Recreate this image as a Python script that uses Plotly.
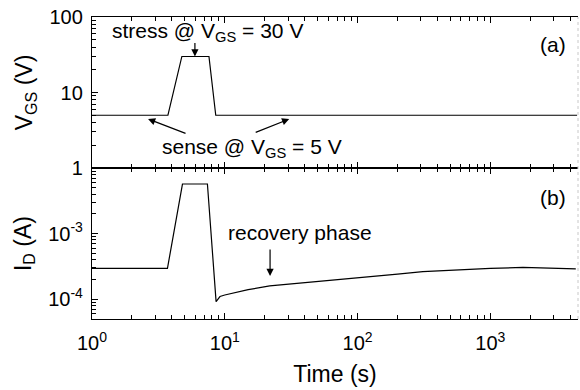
import numpy as np
import plotly.graph_objects as go
from plotly.subplots import make_subplots

# ---- data ----
t_v = [1, 3.73, 4.75, 7.6, 8.55, 4500]
v_gs = [5, 5, 30, 30, 5, 5]

t_i = [1, 3.7, 4.8, 7.4, 8.6, 9.2, 10, 12, 15, 21.8, 30.8, 50, 98, 200, 310, 600, 1000, 1760, 2500, 4400]
i_d = [2.95e-4, 2.95e-4, 5.7e-3, 5.7e-3, 9.2e-5, 1.1e-4, 1.16e-4, 1.27e-4, 1.4e-4, 1.6e-4, 1.7e-4,
       1.85e-4, 2.13e-4, 2.42e-4, 2.63e-4, 2.82e-4, 2.95e-4, 3.05e-4, 3.0e-4, 2.9e-4]

x_tickvals = [1, 10, 100, 1000]
x_ticktext = ["10<sup>0</sup>", "10<sup>1</sup>", "10<sup>2</sup>", "10<sup>3</sup>"]
v_tickvals = [1, 10, 100]
v_ticktext = ["1", "10", "100"]
i_tickvals = [1e-4, 1e-3]
i_ticktext = ["10<sup>-4</sup>", "10<sup>-3</sup>"]

FONT = "Liberation Sans, Arial, sans-serif"
TICK = 20
TITLE = 23
ANN = 21

fig = make_subplots(rows=2, cols=1, shared_xaxes=True, vertical_spacing=0)
fig.add_trace(go.Scatter(x=t_v, y=v_gs, mode="lines", line=dict(color="black", width=1.2),
                         showlegend=False), row=1, col=1)
fig.add_trace(go.Scatter(x=t_i, y=i_d, mode="lines", line=dict(color="black", width=1.2),
                         showlegend=False), row=2, col=1)


def minor_vals(lo, hi):
    vals = []
    for e in range(lo, hi):
        for m in range(2, 10):
            vals.append(m * 10 ** e)
    return vals


xcommon = dict(type="log", range=[0, 3.66], showgrid=False, zeroline=False,
               showline=True, linecolor="black", linewidth=1.3,
               ticks="inside", ticklen=6, tickwidth=1.2, tickcolor="black",
               mirror="allticks", tickvals=x_tickvals, ticktext=x_ticktext,
               minor=dict(ticks="inside", ticklen=3.5, tickwidth=1, tickcolor="black",
                          tickvals=minor_vals(0, 4), showgrid=False))
fig.update_xaxes(**xcommon)
fig.update_xaxes(showticklabels=False, row=1, col=1)
fig.update_xaxes(showticklabels=True, row=2, col=1, ticklabelstandoff=6,
                 tickfont=dict(family=FONT, size=TICK, color="black"),
                 title=dict(text="Time (s)", font=dict(family=FONT, size=TITLE, color="black"), standoff=12))

ycommon = dict(type="log", showgrid=False, zeroline=False, showline=True, linecolor="black",
               linewidth=1.3, ticks="inside", ticklen=6, tickwidth=1.2, tickcolor="black",
               ticklabelstandoff=4,
               tickfont=dict(family=FONT, size=TICK, color="black"))
fig.update_yaxes(**ycommon, range=[0, 2], tickvals=v_tickvals, ticktext=v_ticktext,
                 minor=dict(ticks="inside", ticklen=3.5, tickwidth=1, tickcolor="black",
                            tickvals=minor_vals(0, 2), showgrid=False),
                 title=dict(text="V<sub>GS</sub> (V)", font=dict(family=FONT, size=TITLE, color="black"), standoff=10),
                 row=1, col=1)
fig.update_yaxes(**ycommon, range=[np.log10(5e-5), -2], tickvals=i_tickvals, ticktext=i_ticktext,
                 minor=dict(ticks="inside", ticklen=3.5, tickwidth=1, tickcolor="black",
                            tickvals=minor_vals(-5, -2), showgrid=False),
                 title=dict(text="I<sub>D</sub> (A)", font=dict(family=FONT, size=TITLE, color="black"), standoff=10),
                 row=2, col=1)

afont = dict(family=FONT, size=ANN, color="black")
ann = []
# text annotations (panel 1: x, y ; panel 2: x2, y2) -- positions in log10 units
ann.append(dict(xref="x", yref="y", x=0.87, y=1.80, text="stress @ V<sub>GS</sub> = 30 V",
                showarrow=False, font=afont))
ann.append(dict(xref="x", yref="y", x=0.775, y=np.log10(30), text="", showarrow=True,
                ax=0, ay=-15, arrowhead=2, arrowsize=1.2, arrowwidth=1.2, arrowcolor="black"))
ann.append(dict(xref="x", yref="y", x=1.206, y=0.265, text="sense @ V<sub>GS</sub> = 5 V",
                showarrow=False, font=afont))
ann.append(dict(xref="x", yref="y", x=0.422, y=0.649, text="", showarrow=True,
                ax=39, ay=15, arrowhead=2, arrowsize=1.2, arrowwidth=1.2, arrowcolor="black"))
ann.append(dict(xref="x", yref="y", x=1.485, y=0.649, text="", showarrow=True,
                ax=-35, ay=14, arrowhead=2, arrowsize=1.2, arrowwidth=1.2, arrowcolor="black"))
ann.append(dict(xref="x", yref="y", x=3.474, y=1.642, text="(a)", showarrow=False, font=afont))
ann.append(dict(xref="x2", yref="y2", x=3.474, y=-2.457, text="(b)", showarrow=False, font=afont))
ann.append(dict(xref="x2", yref="y2", x=1.567, y=-2.976, text="recovery phase", showarrow=False, font=afont))
ann.append(dict(xref="x2", yref="y2", x=1.341, y=-3.646, text="", showarrow=True,
                ax=0, ay=-28, arrowhead=2, arrowsize=1.2, arrowwidth=1.2, arrowcolor="black"))

fig.update_layout(
    width=580, height=390,
    margin=dict(l=92, r=2, t=17, b=71),
    paper_bgcolor="white", plot_bgcolor="white",
    annotations=ann,
    shapes=[dict(type="line", xref="paper", yref="paper", x0=1, x1=1, y0=0, y1=1,
                 line=dict(color="#c8c8c8", width=1, dash="dot"))],
    font=dict(family=FONT, color="black"),
)

fig.write_html("out.html")
